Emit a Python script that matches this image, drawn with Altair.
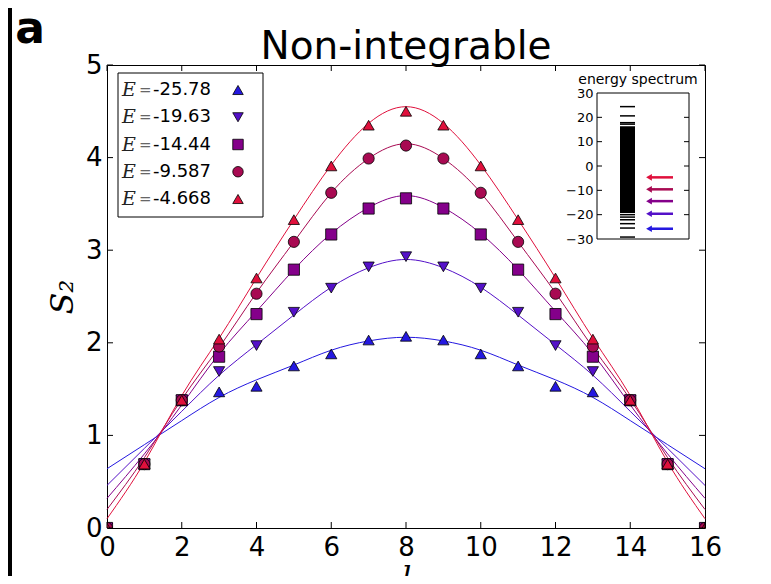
import altair as alt
import pandas as pd

# ---------------- data ----------------
L_VALUES = list(range(17))
E_LABELS = ["-25.78", "-19.63", "-14.44", "-9.587", "-4.668"]
E_VALUES = [-25.78, -19.63, -14.44, -9.587, -4.668]
COLORS = ["#2418e0", "#5410c8", "#84008a", "#a80a52", "#e0103c"]
SHAPES = ["triangle-up", "triangle-down", "square", "circle", "triangle-up"]

# measured S2 (markers)
S2_PTS_1 = [0, 0.69, 1.38, 1.47, 1.53, 1.75, 1.88, 2.03, 2.07, 2.03, 1.88, 1.75, 1.53, 1.47, 1.38, 0.69, 0]
S2_PTS_2 = [0, 0.69, 1.38, 1.69, 1.97, 2.33, 2.59, 2.82, 2.93, 2.82, 2.59, 2.33, 1.97, 1.69, 1.38, 0.69, 0]
S2_PTS_3 = [0, 0.69, 1.38, 1.85, 2.31, 2.79, 3.17, 3.45, 3.56, 3.45, 3.17, 2.79, 2.31, 1.85, 1.38, 0.69, 0]
S2_PTS_4 = [0, 0.69, 1.38, 1.96, 2.53, 3.09, 3.62, 3.99, 4.13, 3.99, 3.62, 3.09, 2.53, 1.96, 1.38, 0.69, 0]
S2_PTS_5 = [0, 0.69, 1.38, 2.04, 2.70, 3.33, 3.91, 4.35, 4.50, 4.35, 3.91, 3.33, 2.70, 2.04, 1.38, 0.69, 0]

# fitted curves, read at integer l
S2_FIT_1 = [0.64, 0.90, 1.16, 1.41, 1.60, 1.76, 1.92, 2.02, 2.06, 2.02, 1.92, 1.76, 1.60, 1.41, 1.16, 0.90, 0.64]
S2_FIT_2 = [0.46, 0.86, 1.26, 1.65, 1.98, 2.30, 2.60, 2.81, 2.90, 2.81, 2.60, 2.30, 1.98, 1.65, 1.26, 0.86, 0.46]
S2_FIT_3 = [0.32, 0.80, 1.33, 1.88, 2.34, 2.79, 3.18, 3.46, 3.59, 3.46, 3.18, 2.79, 2.34, 1.88, 1.33, 0.80, 0.32]
S2_FIT_4 = [0.20, 0.76, 1.39, 1.95, 2.54, 3.09, 3.62, 3.99, 4.15, 3.99, 3.62, 3.09, 2.54, 1.95, 1.39, 0.76, 0.20]
S2_FIT_5 = [0.10, 0.71, 1.43, 2.05, 2.70, 3.33, 3.92, 4.37, 4.55, 4.37, 3.92, 3.33, 2.70, 2.05, 1.43, 0.71, 0.10]

X_TICKS = [0, 2, 4, 6, 8, 10, 12, 14, 16]
Y_TICKS = [0, 1, 2, 3, 4, 5]

SPECTRUM_LEVELS = [24.4, 20.6, 17.8, 17.2, -20.0, -21.0, -22.1, -23.7, -25.5, -29.2]
SPECTRUM_BAND = [-19.3, 16.3]
INSET_TICKS = [-30, -20, -10, 0, 10, 20, 30]
INSET_INNER_TICKS = [-20, -10, 0, 10, 20]

TITLE = "Non-integrable"
PANEL = "a"
INSET_TITLE = "energy spectrum"

# ---------------- tables ----------------
pts_rows, fit_rows = [], []
for lab, pts, fit in zip(E_LABELS,
                         [S2_PTS_1, S2_PTS_2, S2_PTS_3, S2_PTS_4, S2_PTS_5],
                         [S2_FIT_1, S2_FIT_2, S2_FIT_3, S2_FIT_4, S2_FIT_5]):
    for l, p, f in zip(L_VALUES, pts, fit):
        pts_rows.append({"E": lab, "l": l, "s": p})
        fit_rows.append({"E": lab, "l": l, "s": f})
pts_df = pd.DataFrame(pts_rows)
fit_df = pd.DataFrame(fit_rows)

W, H = 598, 463
FONT = "DejaVu Sans"

xs = alt.Scale(domain=[0, 16], nice=False, zero=False)
ys = alt.Scale(domain=[0, 5], nice=False, zero=False)
col_scale = alt.Scale(domain=E_LABELS, range=COLORS)
shp_scale = alt.Scale(domain=E_LABELS, range=SHAPES)

x_axis = alt.Axis(values=X_TICKS, ticks=False, domain=False, grid=False,
                  labelFont=FONT, labelFontSize=26, labelColor="black",
                  labelPadding=6, labelFlush=False, labelOverlap=False, format="d",
                  title="l", titleFont="DejaVu Serif", titleFontStyle="italic",
                  titleFontWeight="normal", titleFontSize=30, titleColor="black",
                  titlePadding=2)
y_axis = alt.Axis(values=Y_TICKS, ticks=False, domain=False, grid=False,
                  labelFont=FONT, labelFontSize=26, labelColor="black",
                  labelPadding=5, labelFlush=False, labelOverlap=False, format="d",
                  title="S₂", titleFont="DejaVu Serif", titleFontStyle="italic",
                  titleFontWeight="normal", titleFontSize=32, titleColor="black",
                  titleX=-45, titleY=H / 2, titleAngle=270, titleAlign="center",
                  titleBaseline="middle")

one = alt.Data(values=[{}])

strip = alt.Chart(one).mark_rect(color="black").encode(
    x=alt.value(-99), x2=alt.value(-95), y=alt.value(-57), y2=alt.value(511))
a_label = alt.Chart(one).mark_text(text=PANEL, font=FONT, fontWeight="bold", fontSize=44,
                                   align="center", baseline="alphabetic", color="black").encode(
    x=alt.value(-77), y=alt.value(-22))
title_txt = alt.Chart(one).mark_text(text=TITLE, font=FONT, fontSize=39, align="center",
                                     baseline="alphabetic", color="black").encode(
    x=alt.value(W / 2), y=alt.value(-6))

lines = alt.Chart(fit_df).mark_line(strokeWidth=1, interpolate="natural").encode(
    x=alt.X("l:Q", scale=xs, axis=x_axis),
    y=alt.Y("s:Q", scale=ys, axis=y_axis),
    color=alt.Color("E:N", scale=col_scale, legend=None),
)
points = alt.Chart(pts_df).mark_point(filled=True, size=125, opacity=1, strokeWidth=0.8,
                                      clip=True).encode(
    x="l:Q", y="s:Q",
    fill=alt.Fill("E:N", scale=col_scale, legend=None),
    shape=alt.Shape("E:N", scale=shp_scale, legend=None),
    stroke=alt.value("black"),
)

xt = pd.DataFrame({"l": X_TICKS})
yt = pd.DataFrame({"s": Y_TICKS})
tick_b = alt.Chart(xt).mark_rule(color="black", strokeWidth=1).encode(
    x="l:Q", y=alt.value(H), y2=alt.value(H - 6))
tick_t = alt.Chart(xt).mark_rule(color="black", strokeWidth=1).encode(
    x="l:Q", y=alt.value(0), y2=alt.value(6))
tick_l = alt.Chart(yt).mark_rule(color="black", strokeWidth=1).encode(
    y="s:Q", x=alt.value(0), x2=alt.value(6))
tick_r = alt.Chart(yt).mark_rule(color="black", strokeWidth=1).encode(
    y="s:Q", x=alt.value(W - 6), x2=alt.value(W))

main = alt.layer(strip, a_label, title_txt, lines, points, tick_b, tick_t, tick_l, tick_r)

# ---------------- legend ----------------
leg_df = pd.DataFrame({"E": E_LABELS})
leg_y = alt.Y("E:N", scale=alt.Scale(type="point", domain=E_LABELS, range=[25, 134], padding=0),
              axis=None)
leg_box = alt.Chart(one).mark_rect(fill="white", stroke="black", strokeWidth=1).encode(
    x=alt.value(11), x2=alt.value(156), y=alt.value(8), y2=alt.value(152))
leg_E = alt.Chart(leg_df).mark_text(text="E", font="DejaVu Serif", fontStyle="italic",
                                     fontSize=19, align="left", baseline="middle",
                                     color="#222").encode(x=alt.value(15), y=leg_y)
leg_eq = alt.Chart(leg_df).mark_text(text="=", font="DejaVu Serif", fontSize=15,
                                      align="left", baseline="middle",
                                      color="#666").encode(x=alt.value(32), y=leg_y)
leg_num = alt.Chart(leg_df).mark_text(font=FONT, fontSize=18, align="left",
                                       baseline="middle", color="black").encode(
    x=alt.value(46), y=leg_y, text="E:N")
leg_pts = alt.Chart(leg_df).mark_point(filled=True, size=110, opacity=1, strokeWidth=0.8).encode(
    x=alt.value(131), y=leg_y,
    fill=alt.Fill("E:N", scale=col_scale, legend=None),
    shape=alt.Shape("E:N", scale=shp_scale, legend=None),
    stroke=alt.value("black"))
legend = alt.layer(leg_box, leg_E, leg_eq, leg_num, leg_pts)

# ---------------- inset ----------------
iys = alt.Scale(domain=[-30, 30], range=[174, 28], nice=False, zero=False)
inset_axis = alt.Axis(orient="left", offset=-490, values=INSET_TICKS, ticks=False,
                      domain=False, grid=False, labelFont=FONT, labelFontSize=13,
                      labelColor="black", labelPadding=4, labelFlush=False,
                      labelOverlap=False, title=None)
frame_df = pd.DataFrame({"v": [INSET_TICKS[0]], "v2": [INSET_TICKS[-1]]})
in_frame = alt.Chart(frame_df).mark_rect(fill="white", stroke="black", strokeWidth=1).encode(
    x=alt.value(490), x2=alt.value(582),
    y=alt.Y("v:Q", scale=iys, axis=inset_axis), y2="v2:Q")
lev_df = pd.DataFrame({"v": SPECTRUM_LEVELS})
in_levels = alt.Chart(lev_df).mark_rule(color="black", strokeWidth=1.5).encode(
    y="v:Q", x=alt.value(513), x2=alt.value(528))
band_df = pd.DataFrame({"v": [SPECTRUM_BAND[0]], "v2": [SPECTRUM_BAND[1]]})
in_band = alt.Chart(band_df).mark_rect(color="black").encode(
    y="v:Q", y2="v2:Q", x=alt.value(513), x2=alt.value(528))
arr_df = pd.DataFrame({"v": E_VALUES, "E": E_LABELS})
in_arrow = alt.Chart(arr_df).mark_rule(strokeWidth=2.5).encode(
    y="v:Q", x=alt.value(544), x2=alt.value(566),
    color=alt.Color("E:N", scale=col_scale, legend=None))
in_head = alt.Chart(arr_df).mark_point(shape="triangle-left", filled=True, size=45,
                                       opacity=1).encode(
    y="v:Q", x=alt.value(542),
    fill=alt.Fill("E:N", scale=col_scale, legend=None))
it_df = pd.DataFrame({"v": INSET_INNER_TICKS})
in_tl = alt.Chart(it_df).mark_rule(color="black", strokeWidth=1).encode(
    y="v:Q", x=alt.value(490), x2=alt.value(495))
in_tr = alt.Chart(it_df).mark_rule(color="black", strokeWidth=1).encode(
    y="v:Q", x=alt.value(577), x2=alt.value(582))
in_title = alt.Chart(one).mark_text(text=INSET_TITLE, font=FONT, fontSize=14,
                                    align="center", baseline="alphabetic",
                                    color="black").encode(x=alt.value(531), y=alt.value(19))
inset = alt.layer(in_frame, in_band, in_levels, in_arrow, in_head, in_tl, in_tr, in_title)

chart = alt.layer(main, legend, inset).resolve_scale(
    x="independent", y="independent", color="independent",
    fill="independent", shape="independent"
).properties(
    width=W, height=H,
    padding={"left": 99, "top": 57, "right": 50, "bottom": 48},
    autosize=alt.AutoSizeParams(type="none"),
    background="white",
).configure_view(stroke="black", strokeWidth=1)

chart.save("out.html", embed_options={"renderer": "svg", "actions": False})
